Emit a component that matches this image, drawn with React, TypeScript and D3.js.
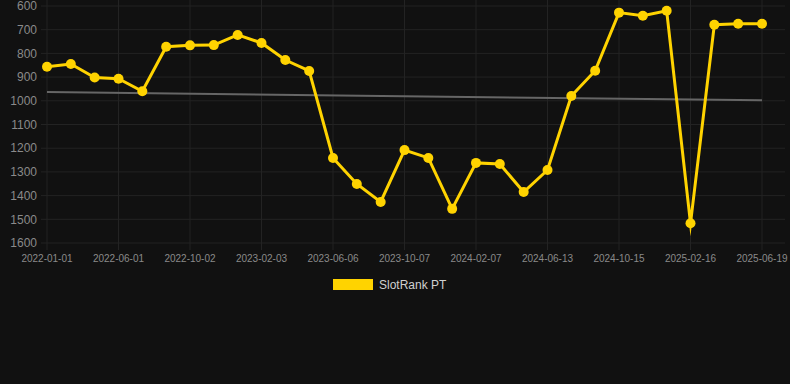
import React from "react";
import * as d3 from "d3";

const dates: string[] = [
  "2022-01-01", "2022-02-20", "2022-04-11", "2022-06-01", "2022-07-12", "2022-08-22",
  "2022-10-02", "2022-11-12", "2022-12-23", "2023-02-03", "2023-03-16", "2023-04-26",
  "2023-06-06", "2023-07-17", "2023-08-27", "2023-10-07", "2023-11-17", "2023-12-28",
  "2024-02-07", "2024-03-21", "2024-05-02", "2024-06-13", "2024-07-24", "2024-09-03",
  "2024-10-15", "2024-11-25", "2025-01-05", "2025-02-16", "2025-03-29", "2025-05-09",
  "2025-06-19",
];

const rankValues: number[] = [
  856, 845, 902, 907, 960, 772, 766, 765, 722, 756, 828, 874,
  1241, 1351, 1427, 1208, 1241, 1456, 1262, 1267, 1385, 1292,
  980, 873, 628, 641, 620, 1517, 679, 675, 675,
];

const trendValues: number[] = [963, 998];
const yTicks: number[] = [600, 700, 800, 900, 1000, 1100, 1200, 1300, 1400, 1500, 1600];
const seriesName = "SlotRank PT";

export default function App() {
  const W = 790, H = 384;
  const x = d3.scalePoint<string>().domain(dates).range([47, 762]);
  const y = d3.scaleLinear().domain([600, 1600]).range([6, 243]);
  const tickDates = dates.filter((_, i) => i % 3 === 0);
  const line = d3.line<number>().x((_, i) => x(dates[i])!).y((v) => y(v));
  const gold = "#FFD300";
  return (
    <svg width={W} height={H} style={{ position: "absolute", left: 0, top: 0, background: "#111111" }}
      fontFamily="Arial, 'Liberation Sans', sans-serif">
      <rect width={W} height={H} fill="#111111" />
      {yTicks.map((t) => (
        <g key={t}>
          <line x1={41} x2={785} y1={y(t)} y2={y(t)} stroke="#232323" strokeWidth={1} />
          <text x={37} y={y(t)} dy="0.35em" textAnchor="end" fontSize={12} fill="#8a8a8a">{t}</text>
        </g>
      ))}
      {tickDates.map((d) => (
        <g key={d}>
          <line x1={x(d)!} x2={x(d)!} y1={0} y2={250} stroke="#232323" strokeWidth={1} />
          <text x={x(d)!} y={262} textAnchor="middle" fontSize={10} fill="#8a8a8a">{d}</text>
        </g>
      ))}
      <line x1={x(dates[0])!} x2={x(dates[dates.length - 1])!} y1={y(trendValues[0])} y2={y(trendValues[1])}
        stroke="#666666" strokeWidth={2} />
      <path d={line(rankValues) || ""} fill="none" stroke={gold} strokeWidth={3} strokeLinejoin="miter" strokeMiterlimit={10} />
      {rankValues.map((v, i) => (
        <circle key={i} cx={x(dates[i])!} cy={y(v)} r={5} fill={gold} />
      ))}
      <rect x={333} y={279} width={40} height={11} fill={gold} />
      <text x={379} y={284.5} dy="0.35em" fontSize={12} fill="#d0d0d0">{seriesName}</text>
    </svg>
  );
}
